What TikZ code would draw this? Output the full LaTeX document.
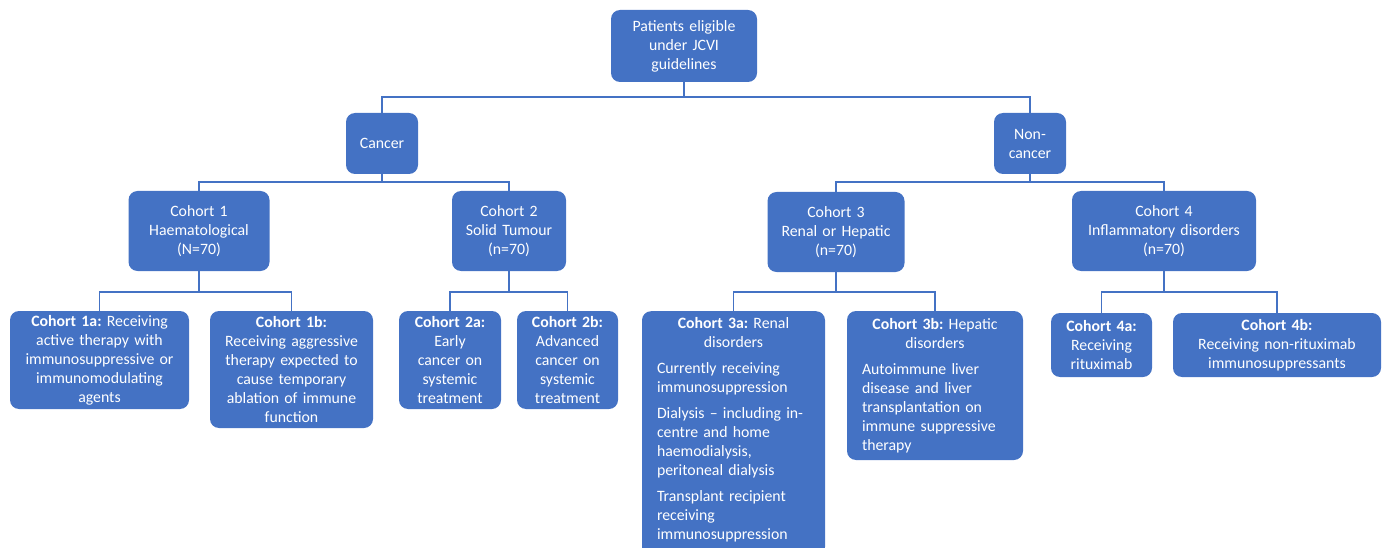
\documentclass[tikz,border=0pt]{standalone}
\usepackage{fontspec}
\setmainfont{Carlito}
\usepackage{tikz}
\definecolor{officeblue}{RGB}{68,114,196}
\frenchspacing

\begin{document}
\begin{tikzpicture}[x=1pt,y=-1pt,
  cbox/.style={fill=officeblue,rounded corners=9pt,text=white,align=center,
    inner xsep=5pt,inner ysep=3pt,font=\fontsize{15.8}{19}\selectfont},
  lbox/.style={cbox,align=left,inner xsep=15pt,inner ysep=6pt},
  link/.style={draw=officeblue,line width=1.3pt}]
\useasboundingbox (0,0) rectangle (1387,548);
% Top of the tree
\node[cbox,text width=136pt,minimum height=72pt] (root) at (684,46) {Patients eligible\\under JCVI\\guidelines};
\node[cbox,text width=62pt,minimum height=61pt] (cancer) at (382,143.5) {Cancer};
\node[cbox,text width=62pt,minimum height=61pt] (noncancer) at (1030,143.5) {Non-\\cancer};
% Cohorts
\node[cbox,text width=131pt,minimum height=80pt] (c1) at (199,231) {Cohort 1\\Haematological\\(N=70)};
\node[cbox,text width=104pt,minimum height=80pt] (c2) at (509,231) {Cohort 2\\Solid Tumour\\(n=70)};
\node[cbox,text width=127pt,minimum height=80pt] (c3) at (836,232) {Cohort 3\\Renal or Hepatic\\(n=70)};
\node[cbox,text width=174pt,minimum height=80pt] (c4) at (1164,231) {Cohort 4\\Inflammatory disorders\\(n=70)};
% Sub-cohorts
\node[cbox,text width=169pt,minimum height=98pt] (c1a) at (99.5,360) {\textbf{Cohort 1a:} Receiving\\active therapy with\\immunosuppressive or\\immunomodulating\\agents};
\node[cbox,text width=153pt,minimum height=117pt] (c1b) at (291.5,369.5) {\textbf{Cohort 1b:}\\Receiving aggressive\\therapy expected to\\cause temporary\\ablation of immune\\function};
\node[cbox,text width=92pt,minimum height=98pt] (c2a) at (450,360) {\textbf{Cohort 2a:}\\Early\\cancer on\\systemic\\treatment};
\node[cbox,text width=91pt,minimum height=98pt] (c2b) at (567.5,360) {\textbf{Cohort 2b:}\\Advanced\\cancer on\\systemic\\treatment};
\node[lbox,text width=153pt,anchor=north] (c3a) at (733.5,311) {{\centering\textbf{Cohort 3a:} Renal\\disorders\par}\vspace{7pt}
  Currently receiving\\immunosuppression\par\vspace{7pt}
  Dialysis -- including in-\\centre and home\\haemodialysis,\\peritoneal dialysis\par\vspace{7pt}
  Transplant recipient\\receiving\\immunosuppression\par\vspace{8pt}};
\node[lbox,text width=146pt,minimum height=149pt] (c3b) at (935,385.5) {{\centering\textbf{Cohort 3b:} Hepatic\\disorders\par}\vspace{7pt}
  Autoimmune liver\\disease and liver\\transplantation on\\immune suppressive\\therapy};
\node[cbox,text width=91pt,minimum height=64pt] (c4a) at (1101.5,345) {\textbf{Cohort 4a:}\\Receiving\\rituximab};
\node[cbox,text width=198pt,minimum height=64pt] (c4b) at (1277,345) {\textbf{Cohort 4b:}\\Receiving non-rituximab\\immunosuppressants};
% Connectors
\coordinate (busA) at (0,97);
\coordinate (busB) at (0,182);
\coordinate (busC) at (0,292);
\foreach \p/\c/\b in {root/cancer/busA,root/noncancer/busA,
    cancer/c1/busB,cancer/c2/busB,noncancer/c3/busB,noncancer/c4/busB,
    c1/c1a/busC,c1/c1b/busC,c2/c2a/busC,c2/c2b/busC,
    c3/c3a/busC,c3/c3b/busC,c4/c4a/busC,c4/c4b/busC}
  \draw[link] (\p.south) -- (\p.south|-\b) -| (\c.north);
\end{tikzpicture}
\end{document}
